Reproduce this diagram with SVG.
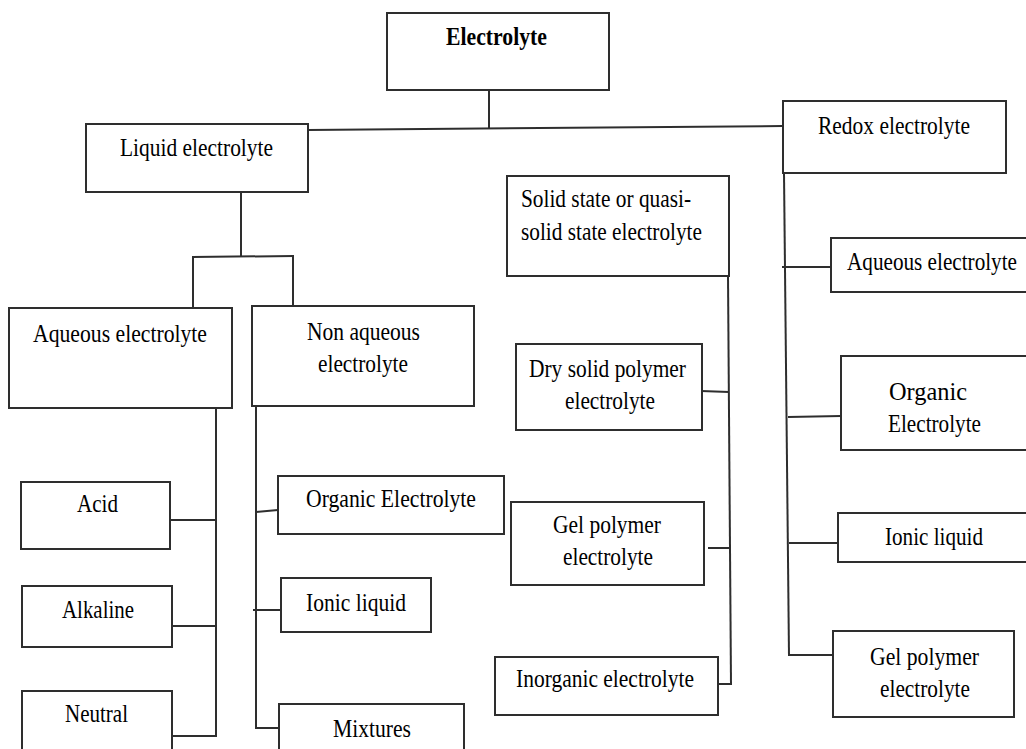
<svg xmlns="http://www.w3.org/2000/svg" width="1026" height="749" viewBox="0 0 1026 749">
<style>
.box{fill:#fff;stroke:#2e2e2e;stroke-width:2}
.ln{fill:none;stroke:#2e2e2e;stroke-width:2}
text{font-family:"Liberation Serif","Times New Roman",serif;font-size:25px;fill:#000}
.b{font-weight:bold}
</style>
<rect width="1026" height="749" fill="#fff"/>
<g id="connectors">
<line class="ln" x1="489" y1="90" x2="489" y2="128"/>
<line class="ln" x1="308" y1="130" x2="783" y2="126"/>
<line class="ln" x1="241" y1="185" x2="241" y2="257"/>
<line class="ln" x1="192" y1="257" x2="294" y2="256"/>
<line class="ln" x1="193" y1="257" x2="193" y2="310"/>
<line class="ln" x1="293" y1="256" x2="293" y2="306"/>
<line class="ln" x1="216" y1="408" x2="216" y2="737"/>
<line class="ln" x1="167" y1="520" x2="216" y2="520"/>
<line class="ln" x1="166" y1="626" x2="216" y2="626"/>
<line class="ln" x1="167" y1="736" x2="217" y2="736"/>
<line class="ln" x1="256" y1="406" x2="256" y2="729"/>
<line class="ln" x1="256" y1="512" x2="278" y2="510"/>
<line class="ln" x1="253" y1="610" x2="283" y2="610"/>
<line class="ln" x1="256" y1="728" x2="279" y2="728"/>
<line class="ln" x1="728" y1="276" x2="731" y2="685"/>
<line class="ln" x1="701" y1="391" x2="729" y2="392"/>
<line class="ln" x1="708" y1="548" x2="730" y2="548"/>
<line class="ln" x1="718" y1="684" x2="731" y2="684"/>
<line class="ln" x1="784" y1="173" x2="789" y2="656"/>
<line class="ln" x1="782" y1="267" x2="831" y2="267"/>
<line class="ln" x1="788" y1="417" x2="841" y2="416"/>
<line class="ln" x1="789" y1="543" x2="838" y2="543"/>
<line class="ln" x1="789" y1="655" x2="833" y2="655"/>
</g>
<g id="n-electrolyte"><rect class="box" x="387" y="13" width="222" height="77"/><text class="b" x="446" y="45" textLength="101" lengthAdjust="spacingAndGlyphs">Electrolyte</text></g>
<g id="n-liquid"><rect class="box" x="86" y="124" width="222" height="68"/><text x="120" y="156" textLength="153" lengthAdjust="spacingAndGlyphs">Liquid electrolyte</text></g>
<g id="n-redox"><rect class="box" x="783" y="101" width="223" height="72"/><text x="818" y="134" textLength="152" lengthAdjust="spacingAndGlyphs">Redox electrolyte</text></g>
<g id="n-solid"><rect class="box" x="507" y="176" width="222" height="100"/><text x="521" y="207" textLength="170" lengthAdjust="spacingAndGlyphs">Solid state or quasi-</text><text x="521" y="240" textLength="181" lengthAdjust="spacingAndGlyphs">solid state electrolyte</text></g>
<g id="n-aqueous-l"><rect class="box" x="9" y="308" width="223" height="100"/><text x="33" y="342" textLength="174" lengthAdjust="spacingAndGlyphs">Aqueous electrolyte</text></g>
<g id="n-nonaqueous"><rect class="box" x="252" y="306" width="222" height="100"/><text x="307" y="340" textLength="113" lengthAdjust="spacingAndGlyphs">Non aqueous</text><text x="318" y="372" textLength="90" lengthAdjust="spacingAndGlyphs">electrolyte</text></g>
<g id="n-acid"><rect class="box" x="21" y="482" width="149" height="67"/><text x="77" y="512" textLength="41" lengthAdjust="spacingAndGlyphs">Acid</text></g>
<g id="n-alkaline"><rect class="box" x="22" y="586" width="150" height="61"/><text x="62" y="618" textLength="72" lengthAdjust="spacingAndGlyphs">Alkaline</text></g>
<g id="n-neutral"><rect class="box" x="22" y="691" width="150" height="70"/><text x="65" y="722" textLength="63" lengthAdjust="spacingAndGlyphs">Neutral</text></g>
<g id="n-organic-l"><rect class="box" x="278" y="476" width="226" height="58"/><text x="306" y="507" textLength="170" lengthAdjust="spacingAndGlyphs">Organic Electrolyte</text></g>
<g id="n-ionic-l"><rect class="box" x="281" y="578" width="150" height="54"/><text x="306" y="611" textLength="100" lengthAdjust="spacingAndGlyphs">Ionic liquid</text></g>
<g id="n-mixtures"><rect class="box" x="279" y="704" width="185" height="60"/><text x="333" y="737" textLength="78" lengthAdjust="spacingAndGlyphs">Mixtures</text></g>
<g id="n-dry"><rect class="box" x="516" y="344" width="186" height="86"/><text x="529" y="377" textLength="157" lengthAdjust="spacingAndGlyphs">Dry solid polymer</text><text x="565" y="409" textLength="90" lengthAdjust="spacingAndGlyphs">electrolyte</text></g>
<g id="n-gel-l"><rect class="box" x="511" y="502" width="193" height="83"/><text x="553" y="533" textLength="108" lengthAdjust="spacingAndGlyphs">Gel polymer</text><text x="563" y="565" textLength="90" lengthAdjust="spacingAndGlyphs">electrolyte</text></g>
<g id="n-inorganic"><rect class="box" x="495" y="657" width="223" height="58"/><text x="516" y="687" textLength="178" lengthAdjust="spacingAndGlyphs">Inorganic electrolyte</text></g>
<g id="n-aqueous-r"><rect class="box" x="831" y="238" width="200" height="54"/><text x="847" y="270" textLength="170" lengthAdjust="spacingAndGlyphs">Aqueous electrolyte</text></g>
<g id="n-organic-r"><rect class="box" x="841" y="356" width="190" height="94"/><text x="889" y="400" textLength="78" lengthAdjust="spacingAndGlyphs">Organic</text><text x="888" y="432" textLength="93" lengthAdjust="spacingAndGlyphs">Electrolyte</text></g>
<g id="n-ionic-r"><rect class="box" x="838" y="513" width="190" height="49"/><text x="885" y="545" textLength="98" lengthAdjust="spacingAndGlyphs">Ionic liquid</text></g>
<g id="n-gel-r"><rect class="box" x="833" y="631" width="181" height="86"/><text x="870" y="665" textLength="109" lengthAdjust="spacingAndGlyphs">Gel polymer</text><text x="880" y="697" textLength="90" lengthAdjust="spacingAndGlyphs">electrolyte</text></g>
</svg>
